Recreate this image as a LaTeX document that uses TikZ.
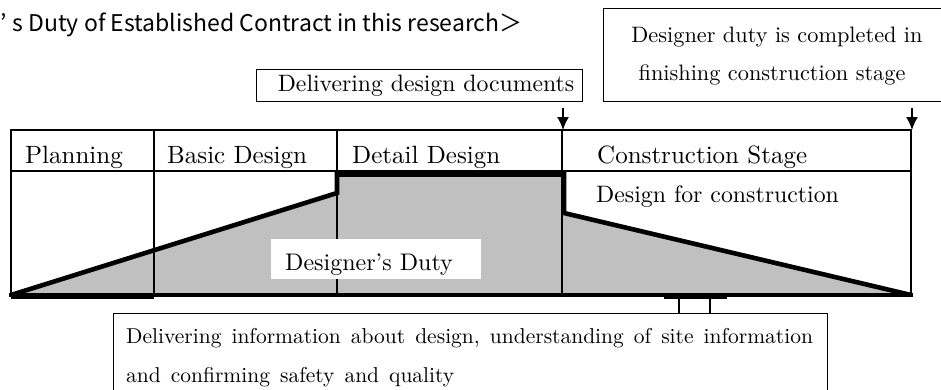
\documentclass[tikz,border=0pt]{standalone}
\usepackage{fontspec}
\setmainfont{lmroman10-regular.otf}
\newfontfamily\jpsans{Noto Sans CJK JP}
\usetikzlibrary{arrows.meta}
\definecolor{dutygray}{HTML}{C0C0C0}
\newcommand\myWideSpaces{\spaceskip=10pt\relax}
\tikzset{
  thinln/.style={line width=1.3pt},
  heavyln/.style={line width=4.6pt, line join=miter},
  txt/.style={inner sep=0pt, anchor=base west},
  ctxt/.style={inner sep=0pt, anchor=base},
  callout/.style={draw, line width=1.3pt, fill=white, inner sep=0pt, anchor=north west},
  downarrow/.style={-{Latex[length=13pt,width=12pt]}, line width=1.5pt},
}
\begin{document}
\begin{tikzpicture}[x=1pt,y=-1pt]
\useasboundingbox (0,0) rectangle (941,389);
\clip (0,0) rectangle (941,389);

% title
\node[txt, font=\jpsans\fontsize{23}{27}\selectfont] (title) at (0,31) {’\kern6pt s Duty of Established Contract in this research＞};

% callout boxes at top
\node[callout, minimum width=326pt, minimum height=32pt] (deliv) at (256,69) {};
\node[ctxt, font=\fontsize{23.7}{28}\selectfont] (delivtxt) at (426,91) {Delivering design documents};

\node[callout, minimum width=350pt, minimum height=93pt] (fin) at (603,8) {};
\node[ctxt, font=\fontsize{22.3}{28}\selectfont] (fin1) at (777,42) {Designer duty is completed in};
\node[ctxt, font=\fontsize{22.3}{28}\selectfont] (fin2) at (772,80) {finishing construction stage};

% arrows
\coordinate (arrAs) at (563,108);
\coordinate (arrAe) at (563,130);
\coordinate (arrBs) at (912,108);
\coordinate (arrBe) at (912,130);
\draw[downarrow] (arrAs) -- (arrAe);
\draw[downarrow] (arrBs) -- (arrBe);

% duty area
\fill[dutygray] (11,295) -- (337,193) -- (337,174.5) -- (564,174.5) -- (564,213) -- (911,295) -- cycle;

% table
\draw[thinln] (11,130) rectangle (911,295);
\draw[thinln] (11,171) -- (911,171);
\foreach \x in {154,337,562} \draw[thinln] (\x,130) -- (\x,295);

% thick profile
\draw[heavyln] (11,295) -- (337,193) -- (337,174.5) -- (564,174.5) -- (564,213) -- (911,295);
\draw[heavyln] (9,295) -- (913,295);
\draw[line width=3pt] (11,297.5) -- (154,297.5);

% header texts
\node[txt, font=\fontsize{25}{30}\selectfont] (plan) at (25,163) {Planning};
\node[txt, font=\fontsize{25}{30}\selectfont] (basic) at (167,163) {Basic Design};
\node[txt, font=\fontsize{25}{30}\selectfont] (detail) at (352,163) {Detail Design};
\node[txt, font=\fontsize{25}{30}\selectfont] (constr) at (597,163) {Construction Stage};
\node[txt, font=\fontsize{23.8}{28}\selectfont] (dfc) at (596,202) {Design for construction};

% designer's duty label
\node[fill=white, inner sep=0pt, minimum width=210pt, minimum height=40pt, anchor=north west] (dutybg) at (271,239) {};
\node[txt, font=\fontsize{24}{28}\selectfont] (duty) at (285,270) {Designer’s Duty};

% bottom callout
\node[callout, minimum width=714pt, minimum height=100pt] (info) at (113,313) {};
\node[txt, font=\fontsize{21.5}{25}\selectfont\myWideSpaces] (info1) at (126,343) {Delivering information about design, understanding of site information};
\node[txt, font=\fontsize{21.5}{25}\selectfont\myWideSpaces] (info2) at (126,382.5) {and confirming safety and quality};

% bracket connector
\coordinate (brL) at (679,298);
\coordinate (brR) at (710,298);
\draw[line width=2pt] (664,298) -- (727,298);
\draw[thinln] (brL) -- (brL |- info.north);
\draw[thinln] (brR) -- (brR |- info.north);
\end{tikzpicture}
\end{document}
